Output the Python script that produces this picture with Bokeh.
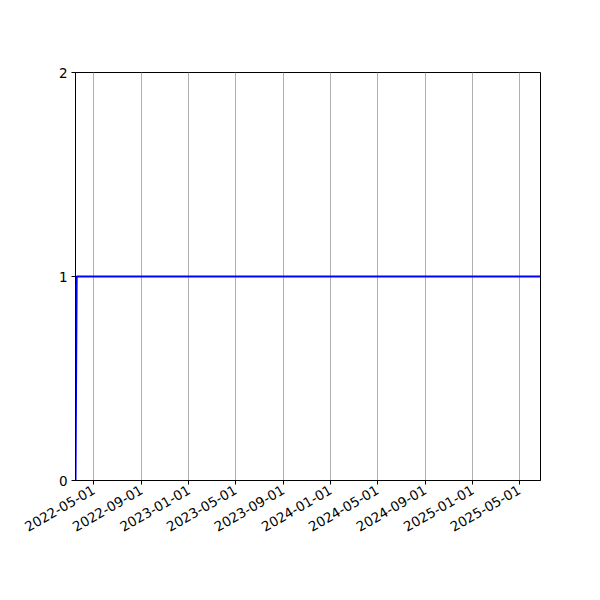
import pandas as pd
from bokeh.plotting import figure
from bokeh.models import (MonthsTicker, FixedTicker, DatetimeTickFormatter, Range1d)
from bokeh.embed import file_html
from bokeh.resources import INLINE
import math

dates = ["2022-03-15", "2022-03-18", "2025-06-25"]
values = [0, 1, 1]
y_ticks = [0, 1, 2]
x_start = "2022-03-15"
x_end = "2025-06-25"

x = pd.to_datetime(dates)

p = figure(width=600, height=600, x_axis_type="datetime", output_backend="svg",
           toolbar_location=None,
           x_range=Range1d(pd.Timestamp(x_start), pd.Timestamp(x_end)),
           y_range=Range1d(0, 2),
           min_border_left=75, min_border_right=60, min_border_top=72, min_border_bottom=120)

p.line(x, values, line_color="#0000ff", line_width=2)

font = "DejaVu Sans"
p.xaxis.ticker = MonthsTicker(months=[0, 4, 8])
fmt = "%Y-%m-%d"
p.xaxis.formatter = DatetimeTickFormatter(years=fmt, months=fmt, days=fmt, hours=fmt,
                                          minutes=fmt, seconds=fmt, milliseconds=fmt,
                                          microseconds=fmt, hourmin=fmt, minsec=fmt)
p.xaxis.major_label_orientation = math.pi / 6
p.yaxis.ticker = FixedTicker(ticks=y_ticks)

for ax in (p.xaxis, p.yaxis):
    ax.major_label_text_font = font
    ax.major_label_text_font_size = "13.5px"
    ax.major_label_text_color = "black"
    ax.axis_line_color = "black"
    ax.axis_line_width = 1
    ax.major_tick_line_color = "black"
    ax.major_tick_out = 4
    ax.major_tick_in = 0
    ax.minor_tick_line_color = None
    ax.major_label_standoff = 4

p.xgrid.grid_line_color = "#b0b0b0"
p.xgrid.grid_line_width = 1
p.ygrid.grid_line_color = None
p.outline_line_color = "black"
p.outline_line_width = 1
p.outline_line_alpha = 1
p.background_fill_color = "white"
p.border_fill_color = "white"

open("out.html", "w").write(file_html(p, INLINE))
